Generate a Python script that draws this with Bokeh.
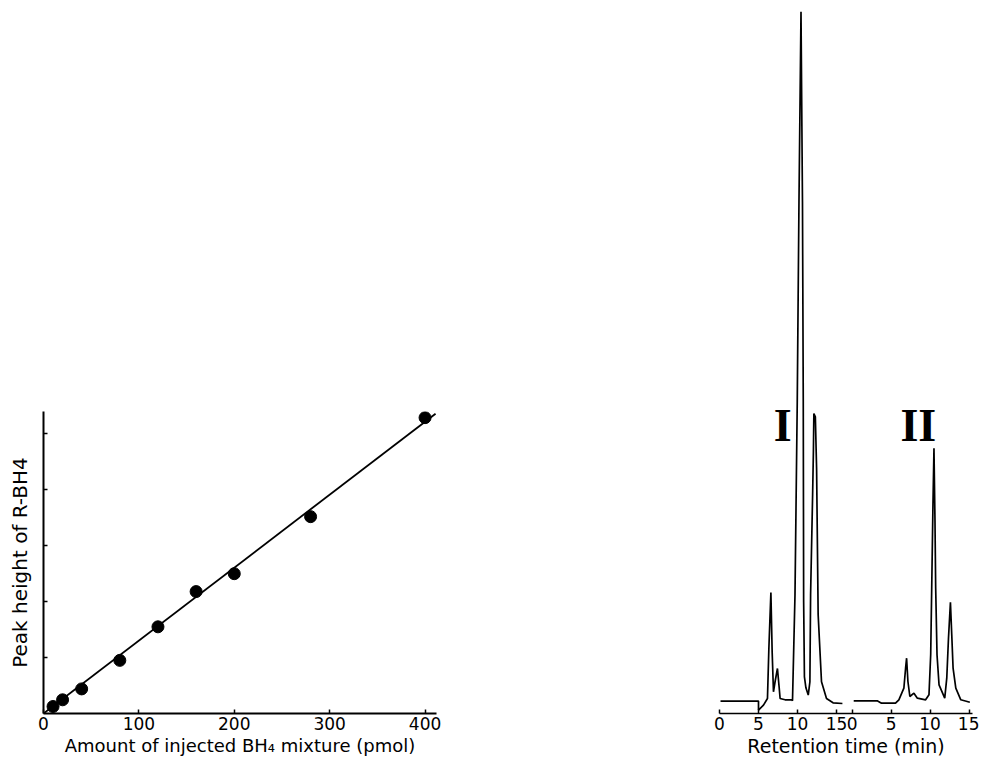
from bokeh.plotting import figure
from bokeh.layouts import row, column
from bokeh.models import Range1d, FixedTicker, Label, Spacer
from bokeh.embed import file_html
from bokeh.resources import INLINE

# ---------------- data: calibration (left panel) ----------------
amount_pmol = [10, 20, 40, 80, 120, 160, 200, 280, 400]
peak_height = [0.125, 0.245, 0.44, 0.95, 1.55, 2.18, 2.50, 3.52, 5.29]
fit_amount = [0, 411]
fit_height = [0, 5.36]
amount_ticks = [0, 100, 200, 300, 400]
height_ticks = [1, 2, 3, 4, 5]

# ---------------- data: chromatograms (right panel) ----------------
time_I = [0.13, 5.0, 5.0, 5.64, 6.15, 6.33, 6.59, 6.75, 6.92, 7.13, 7.43, 7.64, 7.77,
          8.41, 9.26, 9.36, 9.68, 9.97, 10.19, 10.45, 10.64, 10.74, 10.79, 10.89,
          11.08, 11.38, 11.59, 11.68, 11.94, 12.04, 12.10, 12.29, 12.45, 12.65,
          13.08, 13.72, 14.56, 15.76]
signal_I = [12.4, 12.4, 3.4, 8.4, 15.0, 65.0, 121.0, 62.0, 21.7, 32.0, 45.0, 27.0, 15.0,
            13.7, 13.7, 12.7, 118.7, 311.7, 511.7, 701.7, 511.7, 311.7, 111.7, 36.7,
            25.7, 18.4, 31.7, 118.7, 218.7, 261.7, 300.0, 296.7, 245.0, 98.7,
            31.7, 15.0, 10.7, 10.0]

time_II = [0.21, 3.22, 3.77, 5.57, 6.0, 6.64, 6.86, 6.99, 7.16, 7.41, 7.93, 8.37, 9.43,
           9.86, 10.08, 10.21, 10.37, 10.50, 10.63, 10.72, 10.89, 11.15, 11.88,
           12.14, 12.36, 12.61, 12.78, 12.95, 13.30, 13.94, 15.10]
signal_II = [12.7, 12.7, 10.3, 10.3, 13.7, 25.3, 45.3, 55.3, 32.0, 17.0, 20.3, 15.3, 13.7,
             18.7, 59.0, 125.3, 208.7, 265.3, 192.0, 125.3, 58.7, 28.7, 15.3,
             35.3, 75.3, 111.3, 78.7, 45.3, 25.3, 13.7, 11.3]

rt_ticks = [0, 5, 10, 15]
II_offset = 17  # where run II's t = 0 sits on the shared time axis

FONT = "DejaVu Sans"
H = 759
TOP_GAP = 411
BOTTOM = 46
LEFT_W = 700

# ---------------- left panel ----------------
p1 = figure(width=LEFT_W, height=H - TOP_GAP, output_backend="svg", toolbar_location=None,
            x_range=Range1d(0, 412), y_range=Range1d(0, 5.4),
            min_border_left=43, min_border_right=LEFT_W - 43 - 393, min_border_top=0,
            min_border_bottom=BOTTOM)
p1.outline_line_color = None
p1.grid.visible = False
p1.background_fill_color = "white"
p1.border_fill_color = "white"

p1.line(fit_amount, fit_height, line_color="black", line_width=1.8)
p1.scatter(amount_pmol, peak_height, size=12, fill_color="black", line_color="black")

xa = p1.xaxis[0]
xa.ticker = FixedTicker(ticks=amount_ticks)
xa.axis_label = "Amount of injected BH\u2084 mixture (pmol)"
xa.axis_line_width = 2
xa.axis_line_color = "black"
xa.major_tick_line_color = "black"
xa.major_tick_line_width = 1.5
xa.major_tick_in = 4
xa.major_tick_out = 0
xa.minor_tick_line_color = None
xa.major_label_text_font = FONT
xa.major_label_text_font_size = "17px"
xa.major_label_text_color = "black"
xa.major_label_standoff = 3
xa.axis_label_text_font = FONT
xa.axis_label_text_font_size = "18px"
xa.axis_label_text_font_style = "normal"
xa.axis_label_text_color = "black"
xa.axis_label_standoff = 2

ya = p1.yaxis[0]
ya.ticker = FixedTicker(ticks=height_ticks)
ya.axis_label = "Peak height of R-BH4"
ya.axis_line_width = 2
ya.axis_line_color = "black"
ya.major_tick_line_color = "black"
ya.major_tick_line_width = 1.5
ya.major_tick_in = 4
ya.major_tick_out = 0
ya.minor_tick_line_color = None
ya.major_label_text_color = None
ya.major_label_text_font_size = "1px"
ya.major_label_standoff = 0
ya.axis_label_text_font = FONT
ya.axis_label_text_font_size = "20px"
ya.axis_label_text_font_style = "normal"
ya.axis_label_text_color = "black"
ya.axis_label_standoff = 12

left = column(Spacer(width=LEFT_W, height=TOP_GAP), p1)

# ---------------- right panel ----------------
R_W = 279
R_LEFT = 19
R_FRAME = 253
x_end = 32.44
p2 = figure(width=R_W, height=H, output_backend="svg", toolbar_location=None,
            x_range=Range1d(0, x_end), y_range=Range1d(0, 713),
            y_axis_location=None,
            min_border_left=R_LEFT, min_border_right=R_W - R_LEFT - R_FRAME,
            min_border_top=0, min_border_bottom=BOTTOM)
p2.extra_x_ranges = {"II": Range1d(-II_offset, x_end - II_offset)}
p2.outline_line_color = None
p2.grid.visible = False
p2.background_fill_color = "white"
p2.border_fill_color = "white"

p2.line(time_I, signal_I, line_color="black", line_width=1.7)
p2.line(time_II, signal_II, line_color="black", line_width=1.7, x_range_name="II")

ra = p2.xaxis[0]
all_ticks = rt_ticks + [t + II_offset for t in rt_ticks]
ra.ticker = FixedTicker(ticks=all_ticks)
ra.major_label_overrides = {t + II_offset: str(t) for t in rt_ticks}
ra.axis_label = "Retention time (min)"
ra.axis_line_width = 1.6
ra.axis_line_color = "black"
ra.major_tick_line_color = "black"
ra.major_tick_line_width = 1.5
ra.major_tick_in = 4
ra.major_tick_out = 0
ra.minor_tick_line_color = None
ra.major_label_text_font = FONT
ra.major_label_text_font_size = "17px"
ra.major_label_text_color = "black"
ra.major_label_standoff = 3
ra.axis_label_text_font = FONT
ra.axis_label_text_font_size = "19px"
ra.axis_label_text_font_style = "normal"
ra.axis_label_text_color = "black"
ra.axis_label_standoff = 2

p2.add_layout(Label(x=8.1, y=288, text="I", text_font="Liberation Serif",
                    text_font_style="bold", text_font_size="46px", text_color="black",
                    text_align="center", text_baseline="alphabetic"))
p2.add_layout(Label(x=8.5, y=288, text="II", x_range_name="II",
                    text_font="Liberation Serif", text_font_style="bold",
                    text_font_size="46px", text_color="black", text_align="center",
                    text_baseline="alphabetic"))

layout = row(left, p2)
open("out.html", "w").write(file_html(layout, INLINE))
